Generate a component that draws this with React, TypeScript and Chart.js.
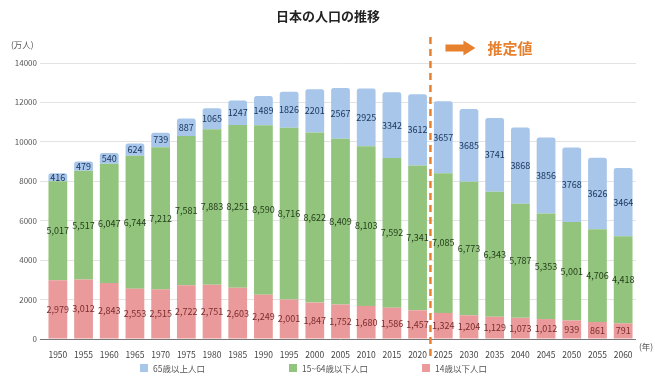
import React, { useEffect, useRef } from "react";
import { Chart, registerables } from "chart.js";

Chart.register(...registerables);

const years = ["1950", "1955", "1960", "1965", "1970", "1975", "1980", "1985", "1990", "1995", "2000", "2005", "2010", "2015", "2020", "2025", "2030", "2035", "2040", "2045", "2050", "2055", "2060"];
const under14 = [2979, 3012, 2843, 2553, 2515, 2722, 2751, 2603, 2249, 2001, 1847, 1752, 1680, 1586, 1457, 1324, 1204, 1129, 1073, 1012, 939, 861, 791];
const working = [5017, 5517, 6047, 6744, 7212, 7581, 7883, 8251, 8590, 8716, 8622, 8409, 8103, 7592, 7341, 7085, 6773, 6343, 5787, 5353, 5001, 4706, 4418];
const elderly = [416, 479, 540, 624, 739, 887, 1065, 1247, 1489, 1826, 2201, 2567, 2925, 3342, 3612, 3657, 3685, 3741, 3868, 3856, 3768, 3626, 3464];
const seriesNames = ["65歳以上人口", "15~64歳以下人口", "14歳以下人口"];
const chartTitle = "日本の人口の推移";
const yUnit = "(万人)";
const xUnit = "(年)";
const estimateLabel = "推定値";
const estimateStartIndex = 15;

const FONT = '"Noto Sans CJK JP", "Noto Sans", sans-serif';
const BLUE = "#a7c6e9";
const GREEN = "#93c47d";
const RED = "#ea9a9a";
const ORANGE = "#e8812f";

export default function App() {
  const ref = useRef<HTMLCanvasElement | null>(null);

  useEffect(() => {
    if (!ref.current) return;
    const labelColors = ["#7a2b2b", "#1f3a17", "#1c3760"];

    const overlay = {
      id: "overlay",
      afterDatasetsDraw(chart: any) {
        const ctx = chart.ctx;
        ctx.save();
        ctx.font = `9px ${FONT}`;
        ctx.textAlign = "center";
        ctx.textBaseline = "middle";
        chart.data.datasets.forEach((ds: any, di: number) => {
          const meta = chart.getDatasetMeta(di);
          meta.data.forEach((el: any, i: number) => {
            const v = ds.data[i];
            const txt = di === 2 ? String(v) : v.toLocaleString("en-US");
            ctx.fillStyle = labelColors[di];
            ctx.fillText(txt, el.x, (el.y + el.base) / 2);
          });
        });
        ctx.restore();
      },
      afterDraw(chart: any) {
        const ctx = chart.ctx;
        const xs = chart.scales.x;
        ctx.save();
        ctx.fillStyle = "#222";
        ctx.font = `bold 13px ${FONT}`;
        ctx.textAlign = "center";
        ctx.textBaseline = "middle";
        ctx.fillText(chartTitle, 328, 16);
        ctx.fillStyle = "#555";
        ctx.font = `8.5px ${FONT}`;
        ctx.textAlign = "left";
        ctx.fillText(yUnit, 11, 45);
        ctx.fillText(xUnit, 639, 347);
        const dx = (xs.getPixelForValue(estimateStartIndex - 1) + xs.getPixelForValue(estimateStartIndex)) / 2;
        ctx.strokeStyle = ORANGE;
        ctx.lineWidth = 2.5;
        ctx.setLineDash([7, 5]);
        ctx.beginPath();
        ctx.moveTo(dx, 37);
        ctx.lineTo(dx, 358);
        ctx.stroke();
        ctx.setLineDash([]);
        ctx.fillStyle = ORANGE;
        ctx.fillRect(dx + 15, 44.5, 19, 7);
        ctx.beginPath();
        ctx.moveTo(dx + 33, 40.5);
        ctx.lineTo(dx + 45, 48);
        ctx.lineTo(dx + 33, 55.5);
        ctx.closePath();
        ctx.fill();
        ctx.font = `bold 15px ${FONT}`;
        ctx.textAlign = "left";
        ctx.fillText(estimateLabel, dx + 57, 48);
        const items = [
          { x: 140, c: BLUE, t: seriesNames[0] },
          { x: 289, c: GREEN, t: seriesNames[1] },
          { x: 422, c: RED, t: seriesNames[2] },
        ];
        ctx.font = `8.5px ${FONT}`;
        items.forEach((it) => {
          ctx.fillStyle = it.c;
          ctx.fillRect(it.x, 364, 8, 8);
          ctx.fillStyle = "#555";
          ctx.fillText(it.t, it.x + 13, 368.5);
        });
        ctx.restore();
      },
    };

    const chart = new Chart(ref.current, {
      type: "bar",
      data: {
        labels: years,
        datasets: [
          { label: seriesNames[2], data: under14, backgroundColor: RED, borderRadius: 0 },
          { label: seriesNames[1], data: working, backgroundColor: GREEN, borderRadius: 0 },
          {
            label: seriesNames[0],
            data: elderly,
            backgroundColor: BLUE,
            borderRadius: { topLeft: 2.5, topRight: 2.5, bottomLeft: 0, bottomRight: 0 },
            borderSkipped: false,
          },
        ],
      },
      options: {
        responsive: false,
        animation: false,
        layout: { padding: { top: 63, right: 19, bottom: 19, left: 0 } },
        datasets: { bar: { categoryPercentage: 1, barPercentage: 0.73 } },
        plugins: { legend: { display: false }, tooltip: { enabled: false }, title: { display: false } },
        scales: {
          x: {
            stacked: true,
            grid: { display: false },
            border: { display: false },
            ticks: { color: "#444", font: { size: 8.5, family: FONT }, padding: 3, maxRotation: 0, autoSkip: false },
            afterFit: (s: any) => {
              s.height = 20;
            },
          },
          y: {
            stacked: true,
            min: 0,
            max: 14000,
            ticks: {
              stepSize: 2000,
              color: "#555",
              font: { size: 8, family: FONT },
              padding: 3,
              callback: (v: any) => String(v),
            },
            grid: {
              color: (c: any) => (c.tick && c.tick.value === 0 ? "#777" : "#e3e3e3"),
              tickLength: 5,
              drawTicks: true,
            },
            border: { display: false },
            afterFit: (s: any) => {
              s.width = 45;
            },
          },
        },
      },
      plugins: [overlay],
    } as any);

    return () => chart.destroy();
  }, []);

  return (
    <div style={{ position: "absolute", left: 0, top: 0, width: 655, height: 378, background: "#fff" }}>
      <canvas ref={ref} width={655} height={378} style={{ display: "block" }} />
    </div>
  );
}
